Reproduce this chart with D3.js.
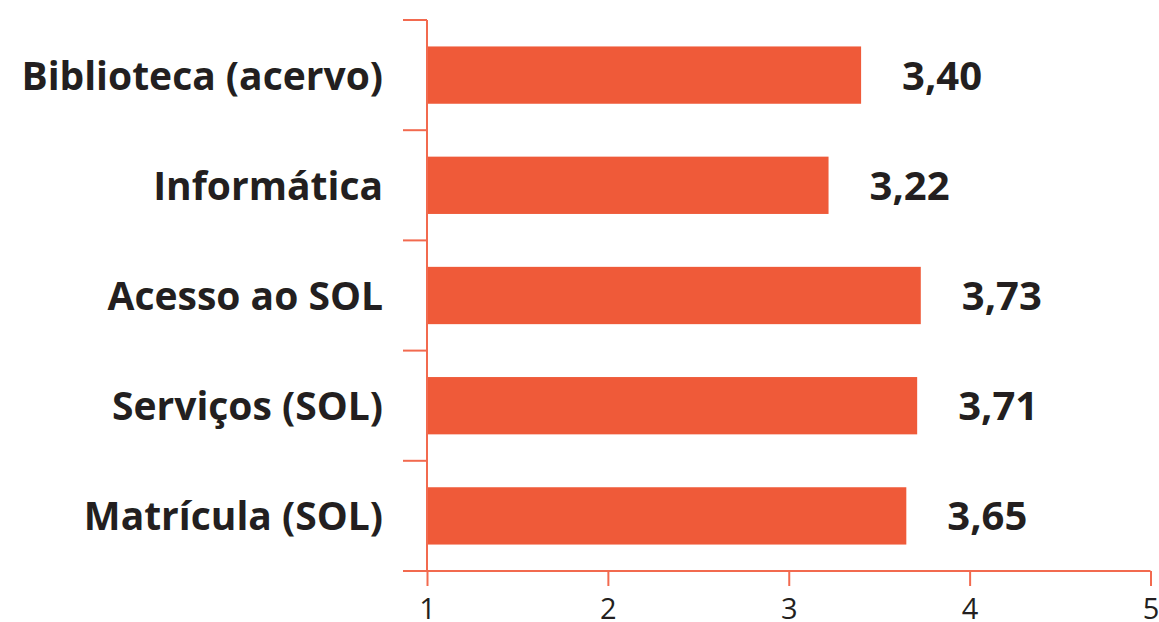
<!doctype html>
<html>
<head>
<meta charset="utf-8">
<title>Avaliação - serviços</title>
<script src="https://d3js.org/d3.v7.min.js"></script>
<style>
  body { margin: 0; background: #fff; }
  svg text { font-family: "Open Sans", "Noto Sans", sans-serif; fill: #231f20; }
</style>
</head>
<body>
<div id="chart"></div>
<script>
// data
var categories = ["Biblioteca (acervo)", "Informática", "Acesso ao SOL", "Serviços (SOL)", "Matrícula (SOL)"];
var values = [3.40, 3.22, 3.73, 3.71, 3.65];
var valueLabels = ["3,40", "3,22", "3,73", "3,71", "3,65"];
var xTicks = [1, 2, 3, 4, 5];

var W = 1159, H = 622;
var barColor = "#ef5a39", axisColor = "#f26a4f";

var svg = d3.select("#chart").append("svg")
  .attr("width", W)
  .attr("height", H);

// scales
var x = d3.scaleLinear().domain([1, 5]).range([427, 1150.5]);
var y = d3.scaleBand().domain(categories).range([20, 571]).padding(0);

var barH = y.bandwidth() * 0.52;

// bars
svg.selectAll(".bar")
  .data(categories)
  .enter().append("rect")
  .attr("class", "bar")
  .attr("x", x(1))
  .attr("y", function(d) { return y(d) + (y.bandwidth() - barH) / 2; })
  .attr("width", function(d, i) { return x(values[i]) - x(1); })
  .attr("height", barH)
  .style("fill", barColor);

// value labels
svg.selectAll(".val")
  .data(categories)
  .enter().append("text")
  .attr("class", "val")
  .attr("x", function(d, i) { return x(values[i]) + 41; })
  .attr("y", function(d) { return y(d) + y.bandwidth() / 2 + 14.5; })
  .style("font-size", "40px")
  .style("font-weight", "bold")
  .text(function(d, i) { return valueLabels[i]; });

// category labels
svg.selectAll(".cat")
  .data(categories)
  .enter().append("text")
  .attr("class", "cat")
  .attr("x", 383)
  .attr("y", function(d) { return y(d) + y.bandwidth() / 2 + 14.5; })
  .style("text-anchor", "end")
  .style("font-size", "39px")
  .style("font-weight", "bold")
  .text(function(d) { return d; });

// y axis: vertical line + boundary ticks
var bounds = categories.map(function(d) { return y(d); }).concat([571]);
svg.append("line")
  .attr("x1", x(1)).attr("x2", x(1))
  .attr("y1", 20).attr("y2", 571)
  .style("stroke", axisColor).style("stroke-width", 2);
svg.selectAll(".ytick")
  .data(bounds.slice(0, -1))
  .enter().append("line")
  .attr("class", "ytick")
  .attr("x1", 403).attr("x2", x(1))
  .attr("y1", function(d) { return d; })
  .attr("y2", function(d) { return d; })
  .style("stroke", axisColor).style("stroke-width", 2);

// x axis
var xAxis = svg.append("g")
  .attr("transform", "translate(0,571)")
  .call(d3.axisBottom(x).tickValues(xTicks).tickSize(15).tickPadding(10)
    .tickFormat(d3.format("d")));
xAxis.select(".domain").remove();
xAxis.append("line")
  .attr("x1", 403).attr("x2", x(5))
  .style("stroke", axisColor).style("stroke-width", 2);
xAxis.selectAll(".tick line").style("stroke", axisColor).style("stroke-width", 2);
xAxis.selectAll(".tick text")
  .attr("dy", null)
  .attr("y", 48)
  .style("font-size", "29px")
  .style("font-weight", "normal")
  .style("font-family", "'Open Sans', sans-serif")
  .style("fill", "#231f20");
</script>
</body>
</html>
